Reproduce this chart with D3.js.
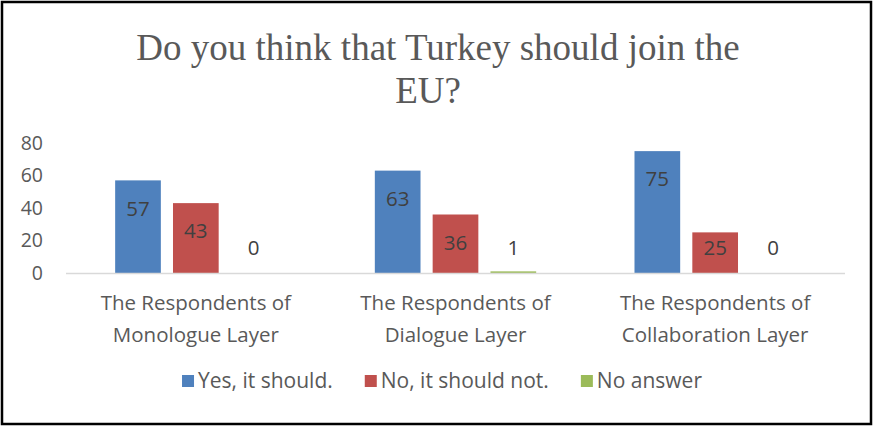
<!DOCTYPE html>
<html>
<head>
<meta charset="utf-8">
<script src="https://cdn.jsdelivr.net/npm/d3@7"></script>
<style>
  body { margin: 0; background: #fff; }
  svg text { font-family: "Open Sans", sans-serif; fill: #595959; }
</style>
</head>
<body>
<svg id="chart" width="875" height="428"></svg>
<script>
var categories = [
    ["The Respondents of", "Monologue Layer"],
    ["The Respondents of", "Dialogue Layer"],
    ["The Respondents of", "Collaboration Layer"]];
var seriesNames = ["Yes, it should.", "No, it should not.", "No answer"];
var seriesColors = ["#4f81bd", "#c0504d", "#9bbb59"];
var yesValues = [57, 63, 75];
var noValues = [43, 36, 25];
var noAnswerValues = [0, 1, 0];
var yTicks = [0, 20, 40, 60, 80];

var svg = d3.select("#chart");

// outer frame
svg.append("rect")
    .attr("x", 2).attr("y", 2)
    .attr("width", 869).attr("height", 422)
    .attr("fill", "none")
    .attr("stroke", "#000")
    .attr("stroke-width", 2.5);

// title
var title = svg.append("text")
    .attr("text-anchor", "middle")
    .style("font-family", "'Liberation Serif', 'Times New Roman', serif")
    .style("font-size", "37px");
title.append("tspan").attr("x", 438).attr("y", 60).text("Do you think that Turkey should join the");
title.append("tspan").attr("x", 428).attr("y", 103).text("EU?");

var plotLeft = 66, plotRight = 845, plotTop = 143, plotBottom = 273;

var x0 = d3.scaleBand()
    .domain(d3.range(categories.length))
    .range([plotLeft, plotRight]);

var x1 = d3.scaleBand()
    .domain(d3.range(seriesNames.length))
    .range([0, x0.bandwidth()])
    .paddingInner(0.21)
    .paddingOuter(0.85);

var y = d3.scaleLinear()
    .domain([0, 80])
    .range([plotBottom, plotTop]);

// y tick labels
svg.selectAll(".ytick")
    .data(yTicks)
    .enter().append("text")
    .attr("class", "ytick")
    .attr("x", 43)
    .attr("y", function(d){return y(d);})
    .attr("dy", "0.35em")
    .attr("text-anchor", "end")
    .style("font-size", "19.5px")
    .text(function(d){return d;});

var rows = [];
categories.forEach(function(c, i) {
    [yesValues, noValues, noAnswerValues].forEach(function(arr, s) {
        rows.push({cat: i, s: s, value: arr[i]});
    });
});

svg.selectAll(".bar")
    .data(rows)
    .enter().append("rect")
    .attr("class", "bar")
    .attr("x", function(d){return x0(d.cat) + x1(d.s);})
    .attr("y", function(d){return y(d.value);})
    .attr("width", x1.bandwidth())
    .attr("height", function(d){return y(0) - y(d.value);})
    .attr("fill", function(d){return seriesColors[d.s];});

// baseline
svg.append("line")
    .attr("x1", plotLeft).attr("x2", plotRight)
    .attr("y1", plotBottom + 0.5).attr("y2", plotBottom + 0.5)
    .attr("stroke", "#d9d9d9")
    .attr("stroke-width", 1.5);

// value labels
svg.selectAll(".vlabel")
    .data(rows)
    .enter().append("text")
    .attr("class", "vlabel")
    .attr("x", function(d){return x0(d.cat) + x1(d.s) + x1.bandwidth()/2;})
    .attr("y", function(d){return Math.min(y(d.value) + 28, y(0) - 25);})
    .attr("dy", "0.35em")
    .attr("text-anchor", "middle")
    .style("font-size", "20.5px")
    .style("fill", "#404040")
    .text(function(d){return d.value;});

// category labels
categories.forEach(function(lines, i) {
    var t = svg.append("text")
        .attr("text-anchor", "middle")
        .style("font-size", "20.5px");
    lines.forEach(function(l, k) {
        t.append("tspan")
            .attr("x", x0(i) + x0.bandwidth()/2)
            .attr("y", 310 + k*32)
            .text(l);
    });
});

// legend
var legend = svg.append("g");
var lx = 0;
seriesNames.forEach(function(name, i) {
    var g = legend.append("g").attr("transform", "translate(" + lx + ",0)");
    g.append("rect").attr("x", 0).attr("y", -6).attr("width", 12).attr("height", 12)
        .attr("fill", seriesColors[i]);
    var t = g.append("text").attr("x", 16).attr("y", 0).attr("dy", "0.35em")
        .style("font-size", "21px").text(name);
    lx += 16 + t.node().getComputedTextLength() + 32;
});
var legendW = lx - 32;
legend.attr("transform", "translate(" + (442 - legendW/2) + ",381)");
</script>
</body>
</html>
